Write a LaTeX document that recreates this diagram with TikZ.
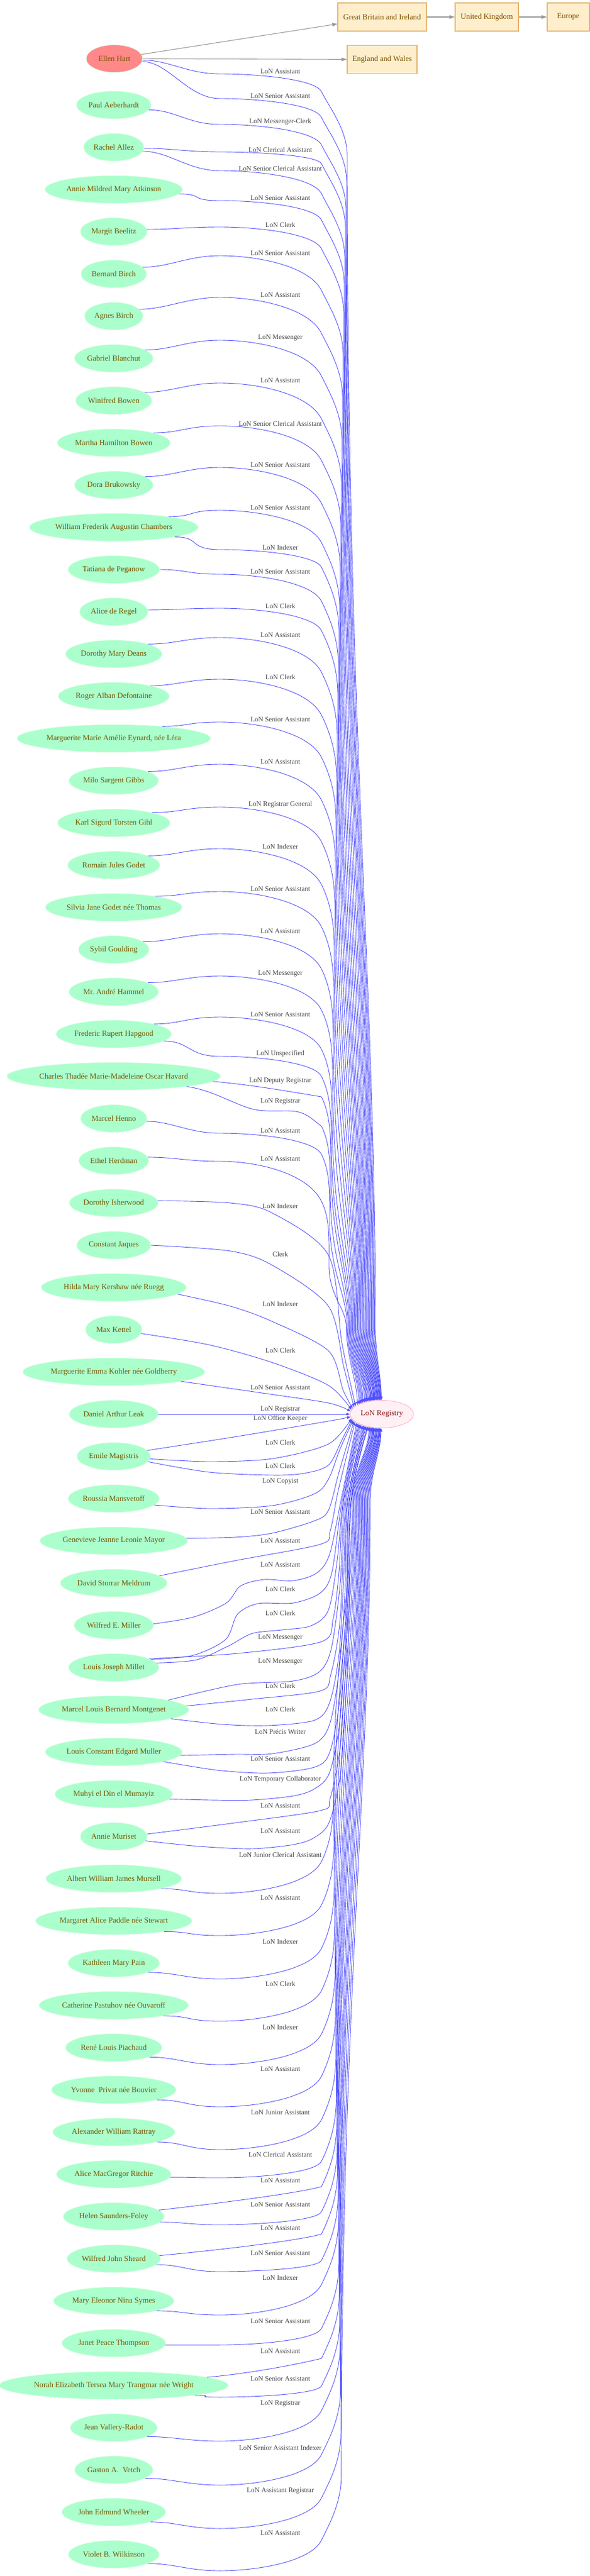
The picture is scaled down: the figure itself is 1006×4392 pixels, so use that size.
\documentclass[tikz,border=0pt]{standalone}
\usepackage{fontspec}
\setmainfont{Liberation Serif}
\usetikzlibrary{arrows.meta,shapes.geometric}

\definecolor{mint}{RGB}{170,255,204}
\definecolor{mintline}{RGB}{214,255,226}
\definecolor{salmon}{RGB}{255,136,136}
\definecolor{olivetext}{RGB}{120,86,0}
\definecolor{boxfill}{RGB}{255,238,204}
\definecolor{boxline}{RGB}{228,178,108}
\definecolor{regfill}{RGB}{255,240,245}
\definecolor{regline}{RGB}{255,170,190}
\definecolor{regtext}{RGB}{140,30,30}
\definecolor{edgeblue}{RGB}{80,80,255}
\definecolor{labgrey}{RGB}{68,68,68}
\definecolor{arrowgrey}{RGB}{153,153,153}

\newcommand\mynodefont{\fontsize{13.2}{15}\selectfont}
\newcommand\mylabfont{\fontsize{11.8}{14}\selectfont}

\tikzset{
  person/.style={ellipse, fill=mint, draw=mintline, line width=0.8pt,
    minimum height=47pt, minimum width=96pt, inner xsep=2pt, inner ysep=1pt,
    text=olivetext, font=\mynodefont},
  ellenstyle/.style={person, fill=salmon},
  place/.style={rectangle, fill=boxfill, draw=boxline, line width=1.1pt,
    minimum height=48pt, inner sep=2pt, text=olivetext, font=\mynodefont},
  regnode/.style={ellipse, fill=regfill, draw=regline, line width=0.8pt,
    minimum height=47pt, inner xsep=2pt, inner ysep=1pt, text=regtext, font=\mynodefont},
  elabel/.style={text=labgrey, font=\mylabfont, inner sep=0pt},
  ledge/.style={draw=edgeblue, line width=0.9pt, -{Triangle[length=6pt,width=4.5pt]}},
  gedge/.style={draw=arrowgrey, line width=1.1pt, -{Triangle[length=9pt,width=6pt]}}
}

% top-group edge: head path ends at (548,#3)
\newcommand\TopX[5]{%
  \pgfmathtruncatemacro\edgeang{92+2.2*#1}%
  \node[elabel] (lt#1) at (478,#4) {#5};
  \draw[ledge] #2 .. controls +(15,30) and +(0,-45) .. (592-#1,#3+110)
    .. controls +(0,{0.5*(2152-#3)}) and +(0,{-0.3*(2152-#3)}) .. (640-1.6*#1,2262)
    .. controls +(0,50) and +(0,-40) .. (reg.\edgeang);
}
\newcommand\TE[5]{%
  \TopX{#1}{(#2) .. controls +(45,0) and +(-55,0) .. (375,#3+4) .. controls +(65,0) and +({-0.35*(#4-#3-4)},{-0.7*(#4-#3-4)}) .. (548,#4)}{#4}{#3}{#5}}

% bottom-group edge: head path ends at (548,#3)
\newcommand\BotX[5]{%
  \pgfmathtruncatemacro\edgeang{-(175-2.2*#1)}%
  \node[elabel] (lb#1) at (478,#4) {#5};
  \draw[ledge] #2 .. controls +(15,-30) and +(0,45) .. (556+0.7*#1,#3-110)
    .. controls +(0,{-0.5*(#3-2670)}) and +(0,{0.3*(#3-2670)}) .. (572+1.6*#1,2560)
    .. controls +(0,-50) and +(0,40) .. (reg.\edgeang);
}
\newcommand\BE[5]{%
  \BotX{#1}{(#2) .. controls +(45,0) and +(-55,0) .. (375,#4) .. controls +(65,0) and +({-0.35*(#4-#3-12)},{0.7*(#4-#3-12)}) .. (548,#3+12)}{#3+12}{#3}{#5}}

\begin{document}
\begin{tikzpicture}[x=1pt,y=-1pt]
\useasboundingbox (0,0) rectangle (1006,4392);

% places
\node[place, minimum width=151pt] (gb) at (651.5,29) {Great Britain and Ireland};
\node[place, minimum width=108pt] (uk) at (830,29) {United Kingdom};
\node[place, minimum width=72pt] (eu) at (969,29) {Europe};
\node[place, minimum width=119pt] (ew) at (651.5,101.5) {England and Wales};

% people
\node[ellenstyle] (ellen) at (195,100) {Ellen Hart};
\foreach \n [count=\i] in {Paul Aeberhardt, Rachel Allez, Annie Mildred Mary Atkinson,
  Margit Beelitz, Bernard Birch, Agnes Birch, Gabriel Blanchut, Winifred Bowen,
  Martha Hamilton Bowen, Dora Brukowsky, William Frederik Augustin Chambers,
  Tatiana de Peganow, Alice de Regel, Dorothy Mary Deans, Roger Alban Defontaine,
  {Marguerite Marie Amélie Eynard, née Léra}, Milo Sargent Gibbs,
  Karl Sigurd Torsten Gihl, Romain Jules Godet, Silvia Jane Godet née Thomas,
  Sybil Goulding, Mr.\ André Hammel, Frederic Rupert Hapgood,
  Charles Thadée Marie-Madeleine Oscar Havard, Marcel Henno, Ethel Herdman,
  Dorothy Isherwood, Constant Jaques, Hilda Mary Kershaw née Ruegg, Max Kettel,
  Marguerite Emma Kohler née Goldberry, Daniel Arthur Leak, Emile Magistris,
  Roussia Mansvetoff, Genevieve Jeanne Leonie Mayor, David Storrar Meldrum,
  Wilfred E. Miller, Louis Joseph Millet, Marcel Louis Bernard Montgenet,
  Louis Constant Edgard Muller, Muhyi el Din el Mumayiz, Annie Muriset,
  Albert William James Mursell, Margaret Alice Paddle née Stewart,
  Kathleen Mary Pain, Catherine Pastuhov née Ouvaroff, René Louis Piachaud,
  Yvonne\ \ Privat née Bouvier, Alexander William Rattray, Alice MacGregor Ritchie,
  Helen Saunders-Foley, Wilfred John Sheard, Mary Eleonor Nina Symes,
  Janet Peace Thompson, Norah Elizabeth Tersea Mary Trangmar née Wright,
  Jean Vallery-Radot, Gaston A.\ \ Vetch, John Edmund Wheeler, Violet B. Wilkinson}
  \node[person] (p\i) at (194,{179+72*(\i-1)}) {\n};

\node[regnode] (reg) at (651,2411) {LoN Registry};

% grey arrows
\draw[gedge] (ellen) -- (gb);
\draw[gedge] (ellen) -- (ew);
\draw[gedge] (gb) -- (uk);
\draw[gedge] (uk) -- (eu);

% ---- top group ----
\TE{0}{ellen.-3}{122}{156}{LoN Assistant}
\TE{1}{ellen.-6}{164}{200}{LoN Senior Assistant}
\TE{2}{p1.-8}{208}{247}{LoN Messenger-Clerk}
\TE{3}{p2.-2}{255}{279}{LoN Clerical Assistant}
\TE{4}{p2.-8}{287}{330}{LoN Senior Clerical Assistant}
\TE{5}{p3.-4}{338}{375}{LoN Senior Assistant}
\TE{6}{p4.4}{383}{424}{LoN Clerk}
\TE{7}{p5.13}{432}{495}{LoN Senior Assistant}
\TE{8}{p6.15}{503}{568}{LoN Assistant}
\TE{9}{p7.15}{576}{641}{LoN Messenger}
\TE{10}{p8.15}{649}{714}{LoN Assistant}
\TE{11}{p9.14}{722}{785}{LoN Senior Clerical Assistant}
\TE{12}{p10.15}{793}{858}{LoN Senior Assistant}
\TE{13}{p11.11}{866}{925}{LoN Senior Assistant}
\TE{14}{p11.-9}{933}{967}{LoN Indexer}
\TE{15}{p12.0}{975}{1025}{LoN Senior Assistant}
\TE{16}{p13.3}{1033}{1075}{LoN Clerk}
\TE{17}{p14.16}{1083}{1146}{LoN Assistant}
\TE{18}{p15.16}{1154}{1219}{LoN Clerk}
\TE{19}{p16.14}{1227}{1291}{LoN Senior Assistant}
\TE{20}{p17.15}{1299}{1364}{LoN Assistant}
\TE{21}{p18.15}{1372}{1435}{LoN Registrar General}
\TE{22}{p19.15}{1443}{1508}{LoN Indexer}
\TE{23}{p20.15}{1516}{1580}{LoN Senior Assistant}
\TE{24}{p21.15}{1588}{1652}{LoN Assistant}
\TE{25}{p22.15}{1660}{1722}{LoN Messenger}
\TE{26}{p23.14}{1730}{1789}{LoN Senior Assistant}
\TE{27}{p23.-8}{1797}{1835}{LoN Unspecified}
\TopX{28}{(p24.-3) .. controls +(60,5) and +(-60,-10) .. (548,1870)}{1870}{1843}{LoN Deputy Registrar}
\TopX{29}{(p24.-8) .. controls +(35,5) and +(-30,-12) .. (410,1884) .. controls +(30,12) and +(-40,0) .. (490,1894) .. controls +(30,0) and +(-20,-15) .. (548,1920)}{1920}{1878}{LoN Registrar}
\TE{30}{p25.-5}{1928}{1968}{LoN Assistant}
\TE{31}{p26.6}{1976}{2048}{LoN Assistant}

% ---- middle, entering from the left ----
\node[elabel] (lm1) at (478,2056) {LoN Indexer};
\draw[ledge] plot[smooth,tension=0.5] coordinates {(p27.3) (393,2051) (464,2068) (560,2140) (583,2290) (reg.163)};
\node[elabel] (lm2) at (478,2138) {Clerk};
\draw[ledge] plot[smooth,tension=0.5] coordinates {(p28.0) (393,2133) (464,2157) (560,2227) (586,2330) (reg.166)};
\node[elabel] (lm3) at (478,2223) {LoN Indexer};
\draw[ledge] plot[smooth,tension=0.5] coordinates {(p29.-6) (393,2227) (464,2253) (560,2303) (585,2370) (reg.169)};
\node[elabel] (lm4) at (478,2302) {LoN Clerk};
\draw[ledge] plot[smooth,tension=0.5] coordinates {(p30.-8) (357,2293) (464,2323) (560,2362) (reg.172)};
\node[elabel] (lm5) at (478,2366) {LoN Senior Assistant};
\draw[ledge] plot[smooth,tension=0.5] coordinates {(p31.-8) (440,2374) (560,2392) (reg.175)};
\node[elabel] (lm6) at (478,2403) {LoN Registrar};
\draw[ledge] (p32) -- (reg);

\node[elabel] (lx0) at (478,2419) {LoN Office Keeper};
\draw[ledge] plot[smooth,tension=0.5] coordinates {(p33.10) (405,2449) (560,2423) (reg.-175)};
\node[elabel] (lx1) at (478,2459) {LoN Clerk};
\draw[ledge] plot[smooth,tension=0.5] coordinates {(p33.-4) (357,2492) (464,2487) (560,2462) (reg.-172)};
\node[elabel] (lx2) at (478,2499) {LoN Clerk};
\draw[ledge] plot[smooth,tension=0.5] coordinates {(p33.-9) (357,2510) (464,2515) (518,2512) (560,2498) (583,2455) (reg.-170)};
\node[elabel] (lx3) at (478,2526) {LoN Copyist};
\draw[ledge] plot[smooth,tension=0.5] coordinates {(p34.-9) (357,2572) (464,2567) (536,2547) (560,2522) (580,2470) (reg.-168)};
\node[elabel] (lx4) at (478,2578) {LoN Senior Assistant};
\draw[ledge] plot[smooth,tension=0.5] coordinates {(p35.2) (400,2621) (464,2614) (536,2593) (560,2575) (578,2510) (reg.-166)};
\node[elabel] (lx5) at (478,2627) {LoN Assistant};
\draw[ledge] plot[smooth,tension=0.5] coordinates {(p36.9) (400,2661) (546,2633) (563,2610) (577,2540) (reg.-164)};
\node[elabel] (lx6) at (478,2668) {LoN Assistant};
\draw[ledge] plot[smooth,tension=0.5] coordinates {(p37.2) (330,2757) (386,2733) (410,2704) (450,2693) (500,2695) (540,2682) (562,2650) (581,2560) (reg.-161)};
\node[elabel] (lx7) at (478,2709) {LoN Clerk};
\draw[ledge] plot[smooth,tension=0.5] coordinates {(p38.12) (330,2822) (385,2795) (405,2752) (440,2734) (500,2733) (546,2716) (566,2680) (583,2560) (reg.-159)};
\node[elabel] (lx8) at (478,2750) {LoN Clerk};
\draw[ledge] plot[smooth,tension=0.5] coordinates {(p38.6) (335,2830) (390,2806) (430,2785) (480,2779) (530,2772) (560,2745) (575,2660) (585,2560) (reg.-157)};
\node[elabel] (lx9) at (478,2792) {LoN Messenger};
\draw[ledge] plot[smooth,tension=0.5] coordinates {(p38.14) (405,2819) (548,2799) (568,2760) (578,2680) (586,2560) (reg.-155)};
\node[elabel] (lx10) at (478,2833) {LoN Messenger};
\draw[ledge] plot[smooth,tension=0.5] coordinates {(p39.10) (404,2872) (500,2866) (545,2850) (565,2810) (580,2700) (588,2560) (reg.-153)};
\node[elabel] (lx11) at (478,2874) {LoN Clerk};
\draw[ledge] plot[smooth,tension=0.5] coordinates {(p39.3) (430,2897) (546,2883) (564,2855) (580,2760) (590,2560) (reg.-150)};
\node[elabel] (lx12) at (478,2914) {LoN Clerk};
\draw[ledge] plot[smooth,tension=0.5] coordinates {(p39.-9) (380,2940) (457,2942) (536,2933) (562,2903) (578,2820) (586,2690) (592,2560) (reg.-148)};
\node[elabel] (lx13) at (478,2952) {LoN Précis Writer};
\draw[ledge] plot[smooth,tension=0.5] coordinates {(p40.-3) (400,2991) (464,2990) (536,2973) (562,2940) (578,2850) (588,2720) (593,2560) (reg.-146)};
\node[elabel] (lx14) at (478,2999) {LoN Senior Assistant};
\draw[ledge] plot[smooth,tension=0.5] coordinates {(p40.-11) (370,3018) (457,3023) (536,3013) (562,2988) (579,2900) (590,2740) (595,2560) (reg.-144)};
\node[elabel] (lx15) at (478,3034) {LoN Temporary Collaborator};
\draw[ledge] plot[smooth,tension=0.5] coordinates {(p41.-5) (360,3069) (429,3069) (500,3062) (536,3050) (562,3022) (580,2930) (591,2760) (596,2560) (reg.-142)};
\node[elabel] (lx16) at (478,3079) {LoN Assistant};
\draw[ledge] plot[smooth,tension=0.5] coordinates {(p42.4) (400,3108) (546,3087) (563,3066) (581,2970) (592,2780) (598,2560) (reg.-139)};
\node[elabel] (lx17) at (478,3122) {LoN Assistant};
\draw[ledge] plot[smooth,tension=0.5] coordinates {(p42.-8) (340,3148) (429,3152) (500,3145) (536,3133) (562,3105) (582,3010) (594,2800) (599,2560) (reg.-137)};

% ---- bottom group ----
\BE{18}{p43.-12}{3162}{3228}{LoN Junior Clerical Assistant}
\BE{19}{p44.-12}{3236}{3300}{LoN Assistant}
\BE{20}{p45.-15}{3310}{3374}{LoN Indexer}
\BE{21}{p46.-12}{3382}{3446}{LoN Clerk}
\BE{22}{p47.-15}{3456}{3520}{LoN Indexer}
\BE{23}{p48.-13}{3528}{3592}{LoN Assistant}
\BE{24}{p49.-13}{3602}{3665}{LoN Junior Assistant}
\BE{25}{p50.-3}{3673}{3713}{LoN Clerical Assistant}
\BotX{26}{(p51.8) .. controls +(70,-8) and +(-40,12) .. (548,3728)}{3728}{3718}{LoN Assistant}
\BE{27}{p51.-7}{3759}{3793}{LoN Senior Assistant}
\BotX{28}{(p52.4) .. controls +(70,-6) and +(-40,12) .. (548,3809)}{3809}{3799}{LoN Assistant}
\BE{29}{p52.-8}{3842}{3873}{LoN Senior Assistant}
\BE{30}{p53.-13}{3883}{3947}{LoN Indexer}
\BE{31}{p54.-2}{3958}{3998}{LoN Senior Assistant}
\BotX{32}{(p55.5) .. controls +(70,-6) and +(-40,10) .. (548,4021)}{4021}{4009}{LoN Assistant}
\BE{33}{p55.-7}{4056}{4087}{LoN Senior Assistant}
\BE{34}{p56.-15}{4098}{4162}{LoN Registrar}
\BE{35}{p57.-15}{4173}{4237}{LoN Senior Assistant Indexer}
\BE{36}{p58.-15}{4247}{4311}{LoN Assistant Registrar}
\BE{37}{p59.-15}{4319}{4383}{LoN Assistant}

\end{tikzpicture}
\end{document}
